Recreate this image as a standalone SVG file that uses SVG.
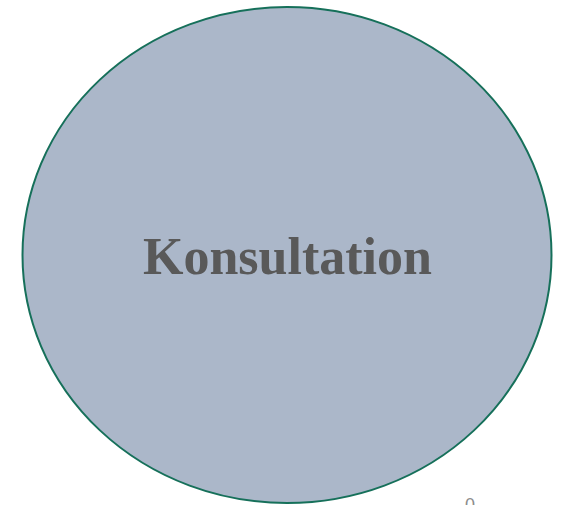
<svg xmlns="http://www.w3.org/2000/svg" width="562" height="505" viewBox="0 0 562 505">
<style>
.node{fill:#abb7c9;stroke:#16705a;stroke-width:2}
.lbl{font-family:"Liberation Serif",serif;font-weight:bold;font-size:52px;fill:#595959;text-anchor:middle}
.small{font-family:"Liberation Sans",sans-serif;font-size:18px;fill:#8c8c8c;text-anchor:middle}
</style>
<rect width="562" height="505" fill="#ffffff"/>
<g id="connectors"></g>
<g id="konsultation">
<ellipse class="node" cx="287" cy="255" rx="264.5" ry="248"/>
<text class="lbl" x="287.5" y="274">Konsultation</text>
</g>
<text class="small" x="470" y="511">0</text>
</svg>
